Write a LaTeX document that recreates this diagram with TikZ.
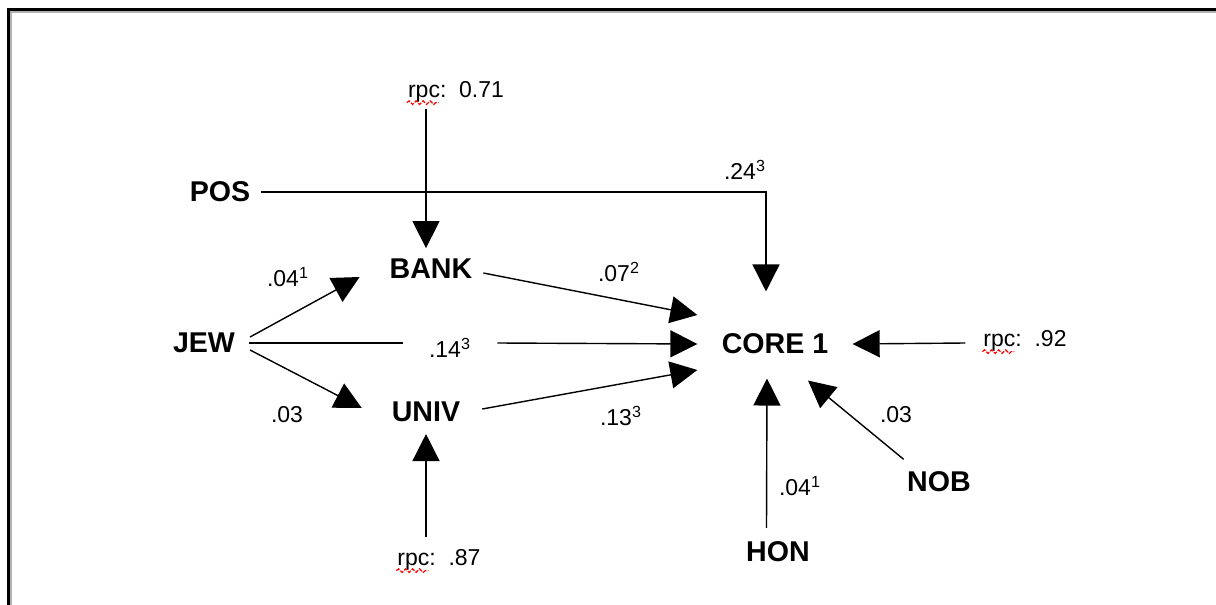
\documentclass[tikz,border=0pt]{standalone}
\usepackage{fontspec}
\setmainfont{Liberation Sans}
\usetikzlibrary{arrows.meta,decorations.pathmorphing}

\begin{document}
\begin{tikzpicture}[x=0.5pt,y=-0.5pt,
    var/.style={font=\fontsize{14.3}{17}\selectfont\bfseries},
    coef/.style={font=\fontsize{11.5}{13}\selectfont},
    spell/.style={red,line width=0.6pt,dash pattern=on 2pt off 0.7pt,decorate,
      decoration={snake,amplitude=0.9pt,segment length=3.5pt}},
    arr/.style={line width=0.7pt,-{Triangle[length=13.5pt,width=13.5pt]}}]
      \useasboundingbox (0,0) rectangle (1216,605);
      \draw[gray!60,line width=1pt] (10.5,605) -- (10.5,11.5) -- (1216,11.5);
      \draw[line width=1.1pt] (8.5,605) -- (8.5,9.5) -- (1216,9.5);

      \node[var] (pos) at (220,192) {POS};
      \node[var] (bank) at (431,269) {BANK};
      \node[var] (jew) at (204,343) {JEW};
      \node[var] (univ) at (426,412) {UNIV};
      \node[var,inner xsep=12pt,inner ysep=11pt] (core) at (775,344) {CORE 1};
      \node[var] (hon) at (778,552) {HON};
      \node[var] (nob) at (939,482) {NOB};

      \node[coef] (rpcbank) at (456,92) {rpc:\ \ 0.71};
      \node[coef] (rpcuniv) at (439,560) {rpc:\ \ .87};
      \node[coef] (rpccore) at (1025,341) {rpc:\ \ .92};
      \draw[spell] ([shift={(6,5)}]rpcbank.base west) -- ++(32,0);
      \draw[spell] ([shift={(6,5)}]rpcuniv.base west) -- ++(32,0);
      \draw[spell] ([shift={(6,5)}]rpccore.base west) -- ++(32,0);

      \node[coef] (cpos) at (745,170) {.24\textsuperscript{3}};
      \node[coef] (cjb) at (288,277) {.04\textsuperscript{1}};
      \node[coef,inner xsep=13pt] (cjc) at (450,348) {.14\textsuperscript{3}};
      \node[coef] (cju) at (287,415) {.03};
      \node[coef] (cbank) at (619,272) {.07\textsuperscript{2}};
      \node[coef] (cuniv) at (621,416) {.13\textsuperscript{3}};
      \node[coef] (chon) at (800,486) {.04\textsuperscript{1}};
      \node[coef] (cnob) at (896,415) {.03};

      \draw[arr] ([xshift=2pt]pos.east) -| ([shift={(-9,-20)}]core.north);
      \draw[arr] ([shift={(-30,0)}]rpcbank.south) -- ([shift={(-5,-4)}]bank.north);
      \draw[arr] ([shift={(8,-6)}]jew.east) -- ([shift={(-23,8)}]bank.west);
      \draw[arr] ([shift={(8,7)}]jew.east) -- ([shift={(-23,-4)}]univ.west);
      \draw[line width=0.7pt] ([xshift=3.5pt]jew.east) -- (jew.east -| cjc.west);
      \draw[arr] (jew.east -| cjc.east) -- (core.west);
      \draw[arr] ([shift={(4,4)}]bank.east) -- ([shift={(0,-29)}]core.west);
      \draw[arr] ([shift={(15,-3)}]univ.east) -- ([shift={(0,26)}]core.west);
      \draw[arr] ([shift={(-13,-6)}]rpcuniv.north) -- ([shift={(0,5)}]univ.south);
      \draw[arr] ([shift={(-11,2)}]rpccore.west) -- (core.east);
      \draw[arr] ([shift={(-11.5,-7)}]hon.north) -- ([shift={(-8,2)}]core.south);
      \draw[arr] ([shift={(3.5,-5.5)}]nob.north west) -- ([shift={(33,4)}]core.south);
    \end{tikzpicture}
\end{document}
